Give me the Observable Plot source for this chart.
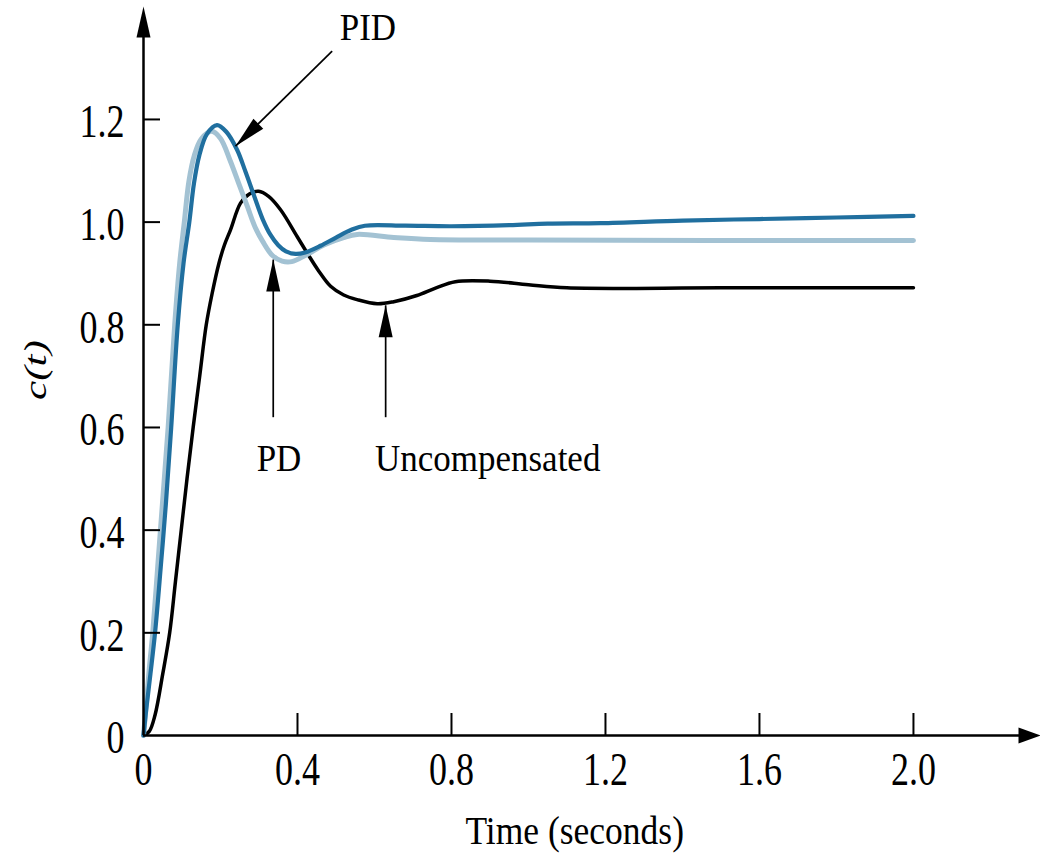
<!DOCTYPE html>
<html>
<head>
<meta charset="utf-8">
<script src="https://cdn.jsdelivr.net/npm/d3@7"></script>
<script src="https://cdn.jsdelivr.net/npm/@observablehq/plot@0.6"></script>
<style>
  body { margin: 0; background: #fff; }
  #chart svg { display: block; background: #fff; }
</style>
</head>
<body>
<div id="chart"></div>
<script>
// ---- data ----
const uncompT = [0, 0.015, 0.03, 0.05, 0.068, 0.083, 0.098, 0.113, 0.129, 0.146, 0.163, 0.178, 0.196, 0.21, 0.226, 0.252, 0.275, 0.299, 0.325, 0.356, 0.399, 0.425, 0.455, 0.486, 0.52, 0.555, 0.607, 0.65, 0.71, 0.76, 0.81, 0.9, 1.0, 1.1, 1.5, 2.0];
const uncompC = [0, 0.008, 0.04, 0.12, 0.2, 0.3, 0.4, 0.5, 0.6, 0.7, 0.8, 0.86, 0.92, 0.955, 0.985, 1.037, 1.055, 1.06, 1.05, 1.024, 0.972, 0.94, 0.905, 0.875, 0.858, 0.849, 0.841, 0.845, 0.857, 0.872, 0.884, 0.885, 0.878, 0.872, 0.872, 0.872];

const pdT = [0, 0.006, 0.015, 0.024, 0.037, 0.05, 0.064, 0.081, 0.094, 0.106, 0.118, 0.132, 0.15, 0.177, 0.2, 0.225, 0.25, 0.27, 0.29, 0.31, 0.335, 0.36, 0.385, 0.42, 0.47, 0.52, 0.555, 0.65, 0.745, 1.0, 2.0];
const pdC = [0, 0.05, 0.13, 0.2, 0.33, 0.46, 0.6, 0.8, 0.92, 1.0, 1.08, 1.13, 1.162, 1.177, 1.163, 1.12, 1.07, 1.03, 0.99, 0.962, 0.935, 0.924, 0.923, 0.935, 0.956, 0.97, 0.976, 0.97, 0.966, 0.965, 0.964];

const pidT = [0, 0.007, 0.018, 0.03, 0.045, 0.058, 0.072, 0.089, 0.104, 0.119, 0.131, 0.145, 0.165, 0.191, 0.215, 0.243, 0.265, 0.287, 0.31, 0.33, 0.35, 0.37, 0.395, 0.42, 0.46, 0.5, 0.54, 0.575, 0.68, 0.8, 0.95, 1.05, 1.187, 1.4, 1.6, 1.8, 2.0];
const pidC = [0, 0.05, 0.12, 0.2, 0.33, 0.45, 0.6, 0.8, 0.92, 1.0, 1.075, 1.13, 1.172, 1.189, 1.176, 1.141, 1.098, 1.052, 1.005, 0.975, 0.955, 0.943, 0.938, 0.941, 0.954, 0.97, 0.985, 0.993, 0.993, 0.992, 0.994, 0.997, 0.998, 1.003, 1.006, 1.009, 1.012];

const xTickValues = [0, 0.4, 0.8, 1.2, 1.6, 2.0];
const xTickLabels = ["0", "0.4", "0.8", "1.2", "1.6", "2.0"];
const yTickValues = [0, 0.2, 0.4, 0.6, 0.8, 1.0, 1.2];
const yTickLabels = ["0", "0.2", "0.4", "0.6", "0.8", "1.0", "1.2"];

const annotLabels = ["PID", "PD", "Uncompensated"];
const annotLabelX = [0.583, 0.352, 0.894];
const annotLabelY = [1.378, 0.54, 0.54];
const annotFromX = [0.49, 0.337, 0.629];
const annotFromY = [1.333, 0.62, 0.62];
const annotTipX = [0.239, 0.337, 0.629];
const annotTipY = [1.148, 0.927, 0.838];

const xTitle = "Time (seconds)";
const yTitle = "c(t)";
const xTitlePos = 1.12;
const yTitlePos = 0.712;

// ---- layout ----
const W = 1040, H = 853;
const mL = 143, mR = 0, mT = 6, mB = 118;
const xMax = 2.33, yMax = 1.42;
const serif = "'Liberation Serif', 'Times New Roman', serif";

const toRows = (T, C) => T.map((t, i) => ({t, c: C[i]}));
const uncomp = toRows(uncompT, uncompC);
const pd = toRows(pdT, pdC);
const pid = toRows(pidT, pidC);

const annots = annotLabels.map((label, i) => ({
  label, lx: annotLabelX[i], ly: annotLabelY[i],
  x1: annotFromX[i], y1: annotFromY[i], x2: annotTipX[i], y2: annotTipY[i]
}));

// pixel helpers only used to orient arrowheads
const xs = d3.scaleLinear([0, xMax], [mL, W - mR]);
const ys = d3.scaleLinear([0, yMax], [H - mB, mT]);

function arrowHead(dx, dy, len, half) {
  const n = Math.hypot(dx, dy), ux = dx / n, uy = dy / n;
  return {
    draw(ctx) {
      const bx = -ux * len, by = -uy * len;
      ctx.moveTo(0, 0);
      ctx.lineTo(bx - uy * half, by + ux * half);
      ctx.lineTo(bx + uy * half, by - ux * half);
      ctx.closePath();
    }
  };
}

const marks = [];
// curves
marks.push(Plot.line(uncomp, {x: "t", y: "c", stroke: "#000", strokeWidth: 3.5, curve: "catmull-rom"}));
marks.push(Plot.line(pd, {x: "t", y: "c", stroke: "#a3c2d3", strokeWidth: 5, curve: "catmull-rom"}));
marks.push(Plot.line(pid, {x: "t", y: "c", stroke: "#206f9f", strokeWidth: 4.2, curve: "catmull-rom"}));

// axes lines with arrowheads
marks.push(Plot.ruleX([0], {x: () => 0, y1: () => 0, y2: () => yMax - 0.03, stroke: "#000", strokeWidth: 2.5}));
marks.push(Plot.ruleY([0], {y: () => 0, x1: () => 0, x2: () => xMax - 0.03, stroke: "#000", strokeWidth: 2.5}));
marks.push(Plot.dot([0], {x: () => 0, y: () => yMax, symbol: arrowHead(0, -1, 31, 7), fill: "#000", stroke: "none"}));
marks.push(Plot.dot([0], {x: () => xMax, y: () => 0, symbol: arrowHead(1, 0, 22, 8), fill: "#000", stroke: "none"}));

// ticks (inward)
marks.push(Plot.tickY(yTickValues.filter(v => v > 0), {y: d => d, insetRight: W - mL - mR - 17, stroke: "#000", strokeWidth: 2}));
marks.push(Plot.tickX(xTickValues.filter(v => v > 0), {x: d => d, insetTop: H - mT - mB - 22, stroke: "#000", strokeWidth: 2}));

// tick labels
marks.push(Plot.text(yTickValues, {x: () => 0, y: d => d, text: (d, i) => yTickLabels[i], dx: -19, dy: 3, textAnchor: "end", lineAnchor: "middle", fontSize: 36, fontFamily: serif, fill: "#000"}));
marks.push(Plot.text(xTickValues, {x: d => d, y: () => 0, text: (d, i) => xTickLabels[i], dy: 35, textAnchor: "middle", lineAnchor: "middle", fontSize: 36, fontFamily: serif, fill: "#000"}));

// axis titles
marks.push(Plot.text([xTitle], {x: () => xTitlePos, y: () => 0, text: d => d, dy: 95, textAnchor: "middle", lineAnchor: "middle", fontSize: 35.5, fontFamily: serif, fill: "#000"}));
marks.push(Plot.text([yTitle], {x: () => 0, y: () => yTitlePos, text: d => d, dx: -108, rotate: -90, textAnchor: "middle", lineAnchor: "middle", fontSize: 32, fontStyle: "italic", fontFamily: serif, fill: "#000"}));

// annotations
marks.push(Plot.link(annots, {x1: "x1", y1: "y1", x2: "x2", y2: "y2", stroke: "#000", strokeWidth: 1.7}));
annots.forEach((a) => {
  const dx = xs(a.x2) - xs(a.x1), dy = ys(a.y2) - ys(a.y1);
  marks.push(Plot.dot([a], {x: "x2", y: "y2", symbol: arrowHead(dx, dy, 32, 7), fill: "#000", stroke: "none"}));
});
marks.push(Plot.text(annots, {x: "lx", y: "ly", text: "label", textAnchor: "middle", lineAnchor: "middle", fontSize: 35, fontFamily: serif, fill: "#000"}));

const plot = Plot.plot({
  width: W, height: H,
  marginLeft: mL, marginRight: mR, marginTop: mT, marginBottom: mB,
  x: {domain: [0, xMax], axis: null},
  y: {domain: [0, yMax], axis: null},
  style: {background: "#fff", overflow: "visible"},
  marks
});

// stretch text glyphs to match the reference proportions (scale about each text's anchor)
const textScale = {"36": [1, 1.3], "35": [1, 1.1], "35.5": [1, 1.15], "32": [1.35, 1]};
plot.querySelectorAll("text").forEach((t) => {
  const holder = t.closest("[font-size]");
  const fs = holder ? holder.getAttribute("font-size") : null;
  const s = fs && textScale[String(parseFloat(fs))];
  if (!s) return;
  const tr = t.getAttribute("transform") || "";
  t.setAttribute("transform", `${tr} scale(${s[0]},${s[1]})`);
});

document.getElementById("chart").appendChild(plot);
</script>
</body>
</html>
